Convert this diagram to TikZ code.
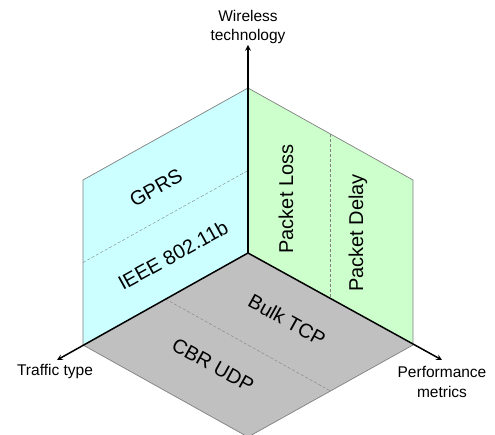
\documentclass[tikz,border=0pt]{standalone}
\usepackage{fontspec}
\setmainfont{Liberation Sans}
\usepackage{tikz}
\usetikzlibrary{calc}
\definecolor{wirelessface}{RGB}{204,255,255}
\definecolor{metricface}{RGB}{204,255,204}
\definecolor{trafficface}{RGB}{192,192,192}

\begin{document}
\begin{tikzpicture}[x=1pt,y=1pt,>=stealth]
	% size of the three faces
	\def\w{165}
	\def\h{165}
	\def\d{92}
	% fonts
	\def\axisfont{\fontsize{15.5}{19.5}\selectfont}
	\def\facefont{\fontsize{20}{24}\selectfont}
	\useasboundingbox (-248,-182) rectangle (247,253);
	
	% corners of the faces
	\coordinate (O) at (0,0);
	\coordinate (top) at (0,\h);
	\coordinate (tl) at (-\w,\h-\d);
	\coordinate (bl) at (-\w,-\d);
	\coordinate (tr) at (\w,\h-\d);
	\coordinate (br) at (\w,-\d);
	\coordinate (bot) at (0,-2*\d);
	
	% shade the faces
	\fill[wirelessface] (O) -- (top) -- (tl) -- (bl) -- cycle;
	\fill[metricface] (O) -- (top) -- (tr) -- (br) -- cycle;
	\fill[trafficface] (O) -- (bl) -- (bot) -- (br) -- cycle;
	\draw[gray,line width=0.7pt] (top) -- (tl) -- (bl) -- (bot) -- (br) -- (tr) -- cycle;
	
	% dashed lines splitting each face
	\draw[gray,dashed,dash pattern=on 3pt off 2pt] ($(bl)!.5!(tl)$) -- ($(O)!.5!(top)$);
	\draw[gray,dashed,dash pattern=on 3pt off 2pt] ($(top)!.5!(tr)$) -- ($(O)!.5!(br)$);
	\draw[gray,dashed,dash pattern=on 3pt off 2pt] ($(O)!.5!(bl)$) -- ($(br)!.5!(bot)$);
	
	% axes
	\coordinate (zt) at (0,208);
	\coordinate (xt) at (-191,-107);
	\coordinate (yt) at (194,-107);
	\draw[line width=1.5pt,->] (O) -- (zt);
	\draw[line width=1.5pt,->] (O) -- (xt);
	\draw[line width=1.5pt,->] (O) -- (yt);
	
	% axis labels
	\node[align=center,font=\axisfont] (wire) at (0,226) {Wireless\\technology};
	\node[font=\axisfont] (traffic) at (-193,-118) {Traffic type};
	\node[align=center,font=\axisfont] (perf) at (194,-129) {Performance\\metrics};
	
	% labels on the faces
	\node[rotate=29,font=\facefont] (gprs) at (-92,65) {GPRS};
	\node[rotate=29,font=\facefont] (ieee) at (-75,-2) {IEEE 802.11b};
	\node[rotate=90,font=\facefont] (loss) at (38,54) {Packet Loss};
	\node[rotate=90,font=\facefont] (delay) at (110,20) {Packet Delay};
	\node[rotate=-29,font=\facefont] (tcp) at (39,-67) {Bulk TCP};
	\node[rotate=-29,font=\facefont] (udp) at (-35,-112) {CBR UDP};
	
\end{tikzpicture}
\end{document}
